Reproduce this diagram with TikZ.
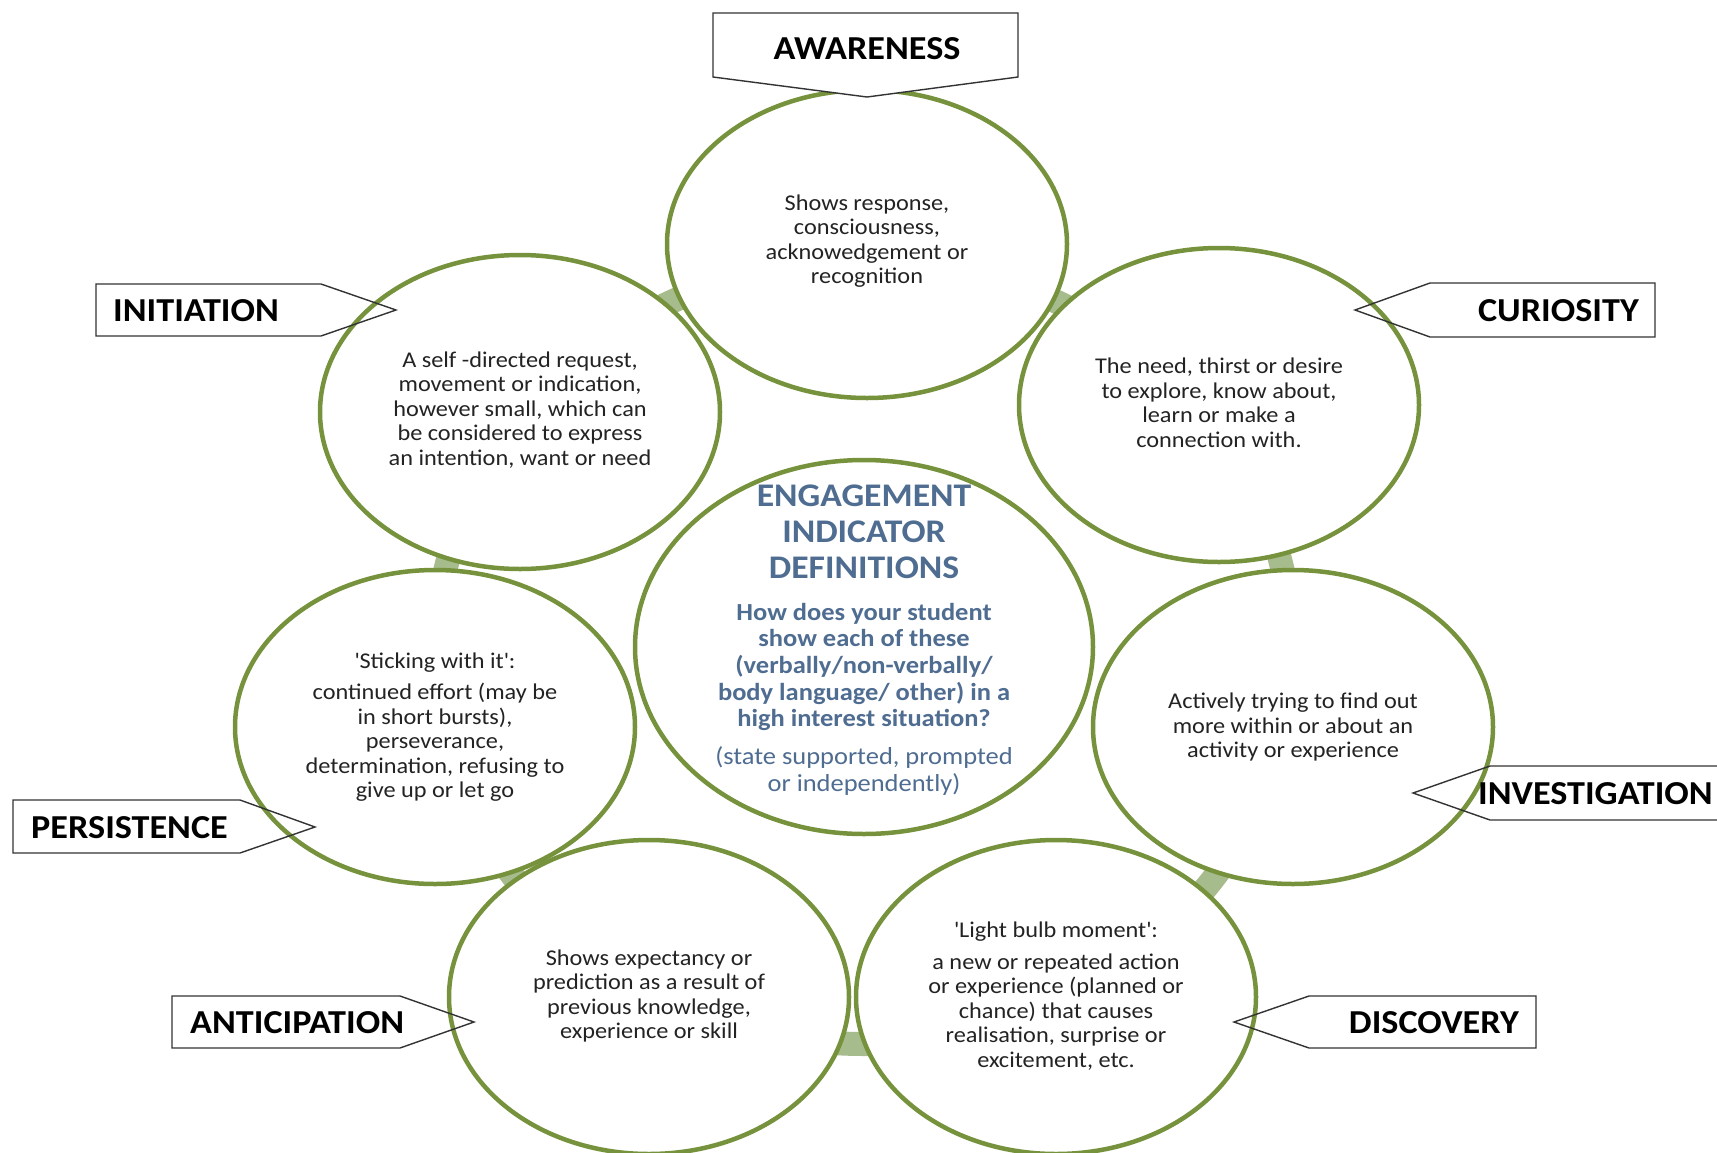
\documentclass[tikz,border=0pt]{standalone}
\usepackage{fontspec}
\setmainfont{Carlito}[FakeStretch=1.08]
\usetikzlibrary{shapes.geometric}
\definecolor{ringgreen}{RGB}{118,146,60}
\definecolor{bandgreen}{RGB}{166,188,140}
\definecolor{titleblue}{RGB}{79,108,145}
\definecolor{bodytext}{RGB}{35,35,35}
\tikzset{
  bubble/.style={ellipse, draw=ringgreen, line width=4.5pt, fill=white, inner sep=0pt},
  outer/.style={bubble, minimum width=400pt, minimum height=314pt},
  body/.style={align=center, text=bodytext, font=\fontsize{22.5}{24.5}\selectfont, inner sep=0pt},
  tag/.style={draw=black!80, line width=1.4pt, line join=miter},
  tagtext/.style={font=\bfseries\fontsize{33.5}{36}\selectfont, text=black, inner sep=0pt},
  titletext/.style={align=center, text=titleblue, inner sep=0pt},
}
\begin{document}
\begin{tikzpicture}[x=1pt,y=-1pt]
\useasboundingbox (0,0) rectangle (1717,1152);
\fill[white] (0,0) rectangle (1717,1152);
% band behind the ring of bubbles
\draw[bandgreen, line width=24pt] (864,652) ellipse [x radius=428, y radius=392];
% bubbles
\node[outer, minimum height=308pt] (aw) at (867,244) {};
\node[outer] (in) at (520,412) {};
\node[outer] (cu) at (1219,405) {};
\node[outer] (pe) at (435,727) {};
\node[outer] (iv) at (1293,727) {};
\node[outer] (an) at (649,997) {};
\node[outer] (di) at (1056,997) {};
\node[bubble, minimum width=458pt, minimum height=374pt] (ce) at (864,647) {};
% bubble texts
\node[body] (awt) at (867,241) {Shows response,\\consciousness,\\acknowedgement or\\recognition};
\node[body] (int) at (520,410) {A self -directed request,\\movement or indication,\\however small, which can\\be considered to express\\an intention, want or need};
\node[body] (cut) at (1219,403) {The need, thirst or desire\\to explore, know about,\\learn or make a\\connection with.};
\node[body] (pet) at (435,727) {\textquotesingle Sticking with it\textquotesingle:\\[7pt]continued effort (may be\\in short bursts),\\perseverance,\\determination, refusing to\\give up or let go};
\node[body] (ivt) at (1293,727) {Actively trying to find out\\more within or about an\\activity or experience};
\node[body] (ant) at (649,996) {Shows expectancy or\\prediction as a result of\\previous knowledge,\\experience or skill};
\node[body] (dit) at (1056,996) {\textquotesingle Light bulb moment\textquotesingle:\\[7pt]a new or repeated action\\or experience (planned or\\chance) that causes\\realisation, surprise or\\excitement, etc.};
% centre texts
\node[titletext, font=\bfseries\fontsize{33}{36}\selectfont] (title) at (864,532) {ENGAGEMENT\\INDICATOR\\DEFINITIONS};
\node[titletext, font=\bfseries\fontsize{24.5}{26.6}\selectfont] (question) at (864,667) {How does your student\\show each of these\\(verbally/non-verbally/\\body language/ other) in a\\high interest situation?};
\node[titletext, font=\fontsize{24.5}{26.3}\selectfont] (mode) at (864,771) {(state supported, prompted\\or independently)};
% tags
\draw[tag, fill=white] (713,13) -- (1018,13) -- (1018,77) -- (867,97) -- (713,77) -- cycle;
\node[tagtext] (awl) at (867,49) {AWARENESS};
\draw[tag] (96,284) -- (321,284) -- (396,310) -- (321,336) -- (96,336) -- cycle;
\node[tagtext, anchor=west] (inl) at (113,311) {INITIATION};
\draw[tag] (1355,310) -- (1430,283) -- (1655,283) -- (1655,337) -- (1430,337) -- cycle;
\node[tagtext, anchor=east] (cul) at (1639,311) {CURIOSITY};
\draw[tag] (1413,793) -- (1490,766) -- (1725,766) -- (1725,820) -- (1490,820) -- cycle;
\node[tagtext, anchor=west] (ivl) at (1478,794) {INVESTIGATION};
\draw[tag] (13,800) -- (240,800) -- (315,827) -- (240,853) -- (13,853) -- cycle;
\node[tagtext, anchor=west] (pel) at (31,828) {PERSISTENCE};
\draw[tag] (172,996) -- (400,996) -- (474,1022) -- (400,1048) -- (172,1048) -- cycle;
\node[tagtext, anchor=west] (anl) at (190,1023) {ANTICIPATION};
\draw[tag] (1234,1022) -- (1309,996) -- (1536,996) -- (1536,1048) -- (1309,1048) -- cycle;
\node[tagtext, anchor=east] (dil) at (1519,1023) {DISCOVERY};
\end{tikzpicture}
\end{document}
